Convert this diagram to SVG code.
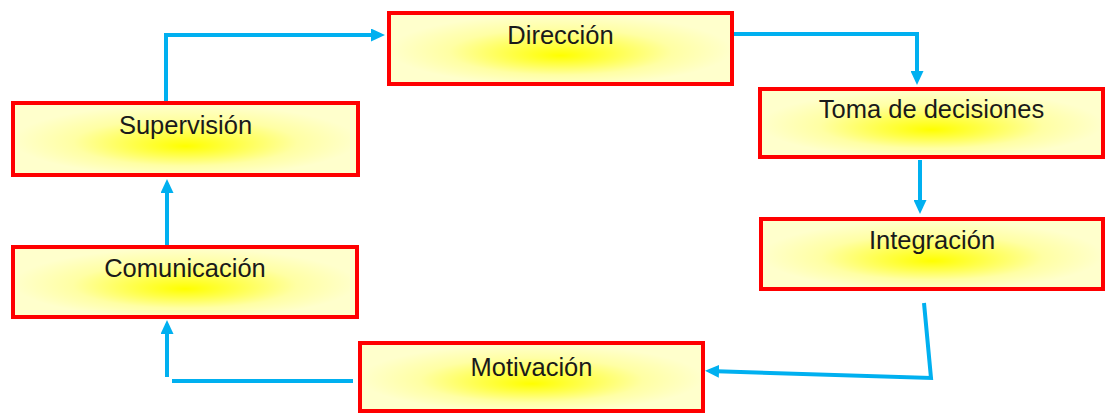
<svg xmlns="http://www.w3.org/2000/svg" width="1108" height="414" viewBox="0 0 1108 414">
  <style>
    .box { stroke: #ff0000; stroke-width: 4; fill: url(#yel); }
    .lbl { font-family: "Liberation Sans", Arial, sans-serif; font-size: 25.5px; fill: #1a1a1a; text-anchor: middle; }
    .con { fill: none; stroke: #00b0f0; stroke-width: 4; marker-end: url(#arr); }
    .con2 { fill: none; stroke: #00b0f0; stroke-width: 4; }
  </style>
  <defs>
    <radialGradient id="yel" cx="0.5" cy="0.52" r="0.5" fx="0.5" fy="0.6">
      <stop offset="0" stop-color="#ffff00"/>
      <stop offset="0.3" stop-color="#ffff4a"/>
      <stop offset="0.65" stop-color="#ffffa4"/>
      <stop offset="1" stop-color="#ffffcc"/>
    </radialGradient>
    <marker id="arr" markerUnits="userSpaceOnUse" viewBox="0 0 14 13" refX="10" refY="6.5" markerWidth="14" markerHeight="13" orient="auto">
      <path d="M0,0 L14,6.5 L0,13 z" fill="#00b0f0"/>
    </marker>
  </defs>

  <g id="connectors">
    <path class="con" d="M166,101 V35 H381"/>
    <path class="con" d="M734,34 H917 V81"/>
    <path class="con" d="M920,160 V210"/>
    <path class="con" d="M924,303 L931,378 L709,371"/>
    <path class="con2" d="M353,381 H172"/>
    <path class="con" d="M167,377 V324"/>
    <path class="con" d="M167,245 V183"/>
  </g>

  <g id="direccion">
    <rect class="box" x="389" y="13" width="343" height="71"/>
    <text class="lbl" x="560.5" y="44">Dirección</text>
  </g>
  <g id="toma">
    <rect class="box" x="760" y="89" width="343" height="68"/>
    <text class="lbl" x="931.5" y="118">Toma de decisiones</text>
  </g>
  <g id="integracion">
    <rect class="box" x="761" y="219" width="342" height="70"/>
    <text class="lbl" x="932" y="249">Integración</text>
  </g>
  <g id="supervision">
    <rect class="box" x="13" y="103" width="345" height="72"/>
    <text class="lbl" x="185.5" y="134">Supervisión</text>
  </g>
  <g id="comunicacion">
    <rect class="box" x="13" y="247" width="344" height="70"/>
    <text class="lbl" x="185" y="277">Comunicación</text>
  </g>
  <g id="motivacion">
    <rect class="box" x="360" y="343" width="343" height="68"/>
    <text class="lbl" x="531.5" y="376">Motivación</text>
  </g>
</svg>
